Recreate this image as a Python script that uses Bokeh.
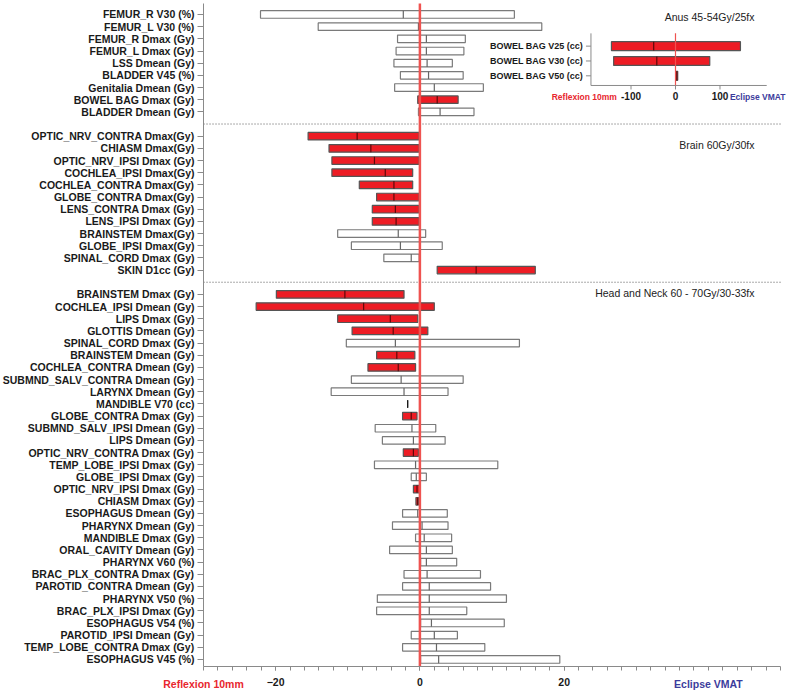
import numpy as np
import pandas as pd
from bokeh.plotting import figure
from bokeh.models import Range1d, FixedTicker, Label, LinearAxis, ColumnDataSource
from bokeh.core.properties import value
from bokeh.embed import file_html
from bokeh.resources import INLINE

# ---------------- data ----------------
anus_labels = ["FEMUR_R V30 (%)", "FEMUR_L V30 (%)", "FEMUR_R Dmax (Gy)", "FEMUR_L Dmax (Gy)",
               "LSS Dmean (Gy)", "BLADDER V45 (%)", "Genitalia Dmean (Gy)",
               "BOWEL BAG Dmax (Gy)", "BLADDER Dmean (Gy)"]
anus_min = [-22.1, -14.1, -3.1, -3.3, -3.6, -2.7, -3.5, -0.3, -0.2]
anus_med = [-2.3, -0.2, 0.9, 0.9, 1.0, 1.2, 2.0, 2.4, 2.8]
anus_max = [13.1, 16.9, 6.3, 6.1, 4.5, 6.0, 8.8, 5.3, 7.5]
anus_sig = [0, 0, 0, 0, 0, 0, 0, 1, 0]

brain_labels = ["OPTIC_NRV_CONTRA Dmax(Gy)", "CHIASM Dmax(Gy)", "OPTIC_NRV_IPSI Dmax (Gy)",
                "COCHLEA_IPSI Dmax(Gy)", "COCHLEA_CONTRA Dmax(Gy)", "GLOBE_CONTRA Dmax(Gy)",
                "LENS_CONTRA Dmax (Gy)", "LENS_IPSI Dmax (Gy)", "BRAINSTEM Dmax(Gy)",
                "GLOBE_IPSI Dmax(Gy)", "SPINAL_CORD Dmax (Gy)", "SKIN D1cc (Gy)"]
brain_min = [-15.5, -12.6, -12.2, -12.2, -8.4, -6.0, -6.6, -6.6, -11.4, -9.5, -5.0, 2.4]
brain_med = [-8.7, -6.8, -6.3, -4.8, -3.6, -3.6, -3.4, -3.3, -3.0, -2.7, -1.2, 7.8]
brain_max = [-0.1, -0.1, -0.1, -1.0, -1.0, -0.1, -0.1, -0.1, 0.8, 3.1, -0.1, 16.0]
brain_sig = [1, 1, 1, 1, 1, 1, 1, 1, 0, 0, 0, 1]

hn_labels = ["BRAINSTEM Dmax (Gy)", "COCHLEA_IPSI Dmean (Gy)", "LIPS Dmax (Gy)", "GLOTTIS Dmean (Gy)",
             "SPINAL_CORD Dmax (Gy)", "BRAINSTEM Dmean (Gy)", "COCHLEA_CONTRA Dmean (Gy)",
             "SUBMND_SALV_CONTRA Dmean (Gy)", "LARYNX Dmean (Gy)", "MANDIBLE V70 (cc)",
             "GLOBE_CONTRA Dmax (Gy)", "SUBMND_SALV_IPSI Dmean (Gy)", "LIPS Dmean (Gy)",
             "OPTIC_NRV_CONTRA Dmax (Gy)", "TEMP_LOBE_IPSI Dmax (Gy)", "GLOBE_IPSI Dmax (Gy)",
             "OPTIC_NRV_IPSI Dmax (Gy)", "CHIASM Dmax (Gy)", "ESOPHAGUS Dmean (Gy)",
             "PHARYNX Dmean (Gy)", "MANDIBLE Dmax (Gy)", "ORAL_CAVITY Dmean (Gy)", "PHARYNX V60 (%)",
             "BRAC_PLX_CONTRA Dmax (Gy)", "PAROTID_CONTRA Dmean (Gy)", "PHARYNX V50 (%)",
             "BRAC_PLX_IPSI Dmax (Gy)", "ESOPHAGUS V54 (%)", "PAROTID_IPSI Dmean (Gy)",
             "TEMP_LOBE_CONTRA Dmax (Gy)", "ESOPHAGUS V45 (%)"]
hn_min = [-19.9, -22.7, -11.4, -9.4, -10.2, -6.0, -7.2, -9.5, -12.3, -1.7, -2.4, -6.2, -5.2,
          -2.3, -6.3, -1.2, -0.9, -0.55, -2.4, -3.8, -0.6, -4.2, 0.1, -2.2, -2.4, -5.9, -6.0,
          0.1, -1.2, -2.4, 0.1]
hn_med = [-10.4, -7.8, -4.1, -3.7, -3.4, -3.2, -3.0, -2.6, -2.2, -1.7, -1.2, -1.1, -0.9,
          -0.9, -0.6, -0.5, -0.4, -0.3, -0.3, 0.3, 0.6, 0.9, 0.9, 1.0, 1.3, 1.3, 1.3,
          1.6, 2.0, 2.3, 2.6]
hn_max = [-2.2, 2.0, -0.3, 1.1, 13.8, -0.7, -0.6, 6.0, 3.9, -1.7, -0.4, 2.2, 3.5,
          -0.2, 10.8, 0.9, -0.05, -0.2, 3.8, 3.9, 4.4, 4.5, 5.1, 8.4, 9.8, 12.0, 6.5,
          11.7, 5.2, 9.0, 19.4]
hn_sig = [1, 1, 1, 1, 0, 1, 1, 0, 0, 0, 1, 0, 0, 1, 0, 0, 1, 1, 0, 0, 0, 0, 0, 0, 0,
          0, 0, 0, 0, 0, 0]

group_titles = ["Anus 45-54Gy/25fx", "Brain 60Gy/30fx", "Head and Neck 60 - 70Gy/30-33fx"]

inset_labels = ["BOWEL BAG V25 (cc)", "BOWEL BAG V30 (cc)", "BOWEL BAG V50 (cc)"]
inset_min = [-144, -139, 1]
inset_med = [-49, -42, 3]
inset_max = [146, 77, 5]
inset_sig = [1, 1, 1]

x_ticks = [-20, 0, 20]
x_end_labels = ["Reflexion 10mm", "Eclipse VMAT"]
x_end_pos = [-30, 40]
inset_x_ticks = [-100, 0, 100]

# ---------------- styling / layout ----------------
RED = "#ed1c24"
RED_EDGE = "#555555"
RED_MED = "#5c0a0a"
GRAY_EDGE = "#7a7a7a"
ZERO = "#ef5350"
AXIS = "#8a8a8a"
FONT = "Liberation Sans"
LEFT_COLOR = "#e8262e"
RIGHT_COLOR = "#3c3c9c"
H = 0.62

# axis extents (data units) and the visible window around them
X_AX0, X_AX1 = -30, 50
X_MIN, X_MAX = -58.15, 50.97
Y_TOP, Y_AXIS = -0.90, 53.57
Y_MIN, Y_MAX = -1.15, 55.55

groups = [(anus_labels, anus_min, anus_med, anus_max, anus_sig),
          (brain_labels, brain_min, brain_med, brain_max, brain_sig),
          (hn_labels, hn_min, hn_med, hn_max, hn_sig)]
rows = []
slot = 0
gap_slots = []
first_slots = []
for gi, (lab, mn, md, mx, sg) in enumerate(groups):
    first_slots.append(slot)
    for i in range(len(lab)):
        rows.append(dict(y=slot, label=lab[i], lo=mn[i], med=md[i], hi=mx[i], sig=sg[i]))
        slot += 1
    if gi < len(groups) - 1:
        gap_slots.append(slot)
        slot += 1
df = pd.DataFrame(rows)
df["fill"] = np.where(df.sig == 1, RED, "white")
df["edge"] = np.where(df.sig == 1, RED_EDGE, GRAY_EDGE)
df["medc"] = np.where(df.sig == 1, RED_MED, "#666666")
df.loc[df.lo == df.hi, ["edge", "medc"]] = "#1a1a1a"
df["y0"] = df.y - H / 2
df["y1"] = df.y + H / 2

p = figure(width=787, height=690, output_backend="svg", toolbar_location=None,
           x_range=Range1d(X_MIN, X_MAX), y_range=Range1d(Y_MAX, Y_MIN),
           x_axis_location=None, y_axis_location=None)
p.min_border = 0
p.outline_line_color = None
p.grid.visible = False

# y axis (fixed at the left end of the x axis)
yax = LinearAxis(fixed_location=X_AX0, bounds=(Y_TOP, Y_AXIS))
yax.ticker = FixedTicker(ticks=list(df.y))
yax.major_label_overrides = {int(r.y): r.label for r in df.itertuples()}
yax.minor_tick_line_color = None
yax.major_tick_out = 6
yax.major_tick_in = 0
yax.major_label_standoff = 3
yax.axis_line_color = AXIS
yax.major_tick_line_color = AXIS
yax.major_label_text_font = FONT
yax.major_label_text_font_style = "bold"
yax.major_label_text_font_size = "10.5px"
yax.major_label_text_color = "#1a1a1a"
p.add_layout(yax, "left")

# x axis (fixed at the bottom of the data area)
xax = LinearAxis(fixed_location=Y_AXIS, bounds=(X_AX0, X_AX1))
xax.ticker = FixedTicker(ticks=x_ticks, minor_ticks=list(range(X_AX0, X_AX1 + 1, 2)))
xax.major_tick_out = 4
xax.major_tick_in = 0
xax.minor_tick_out = 4
xax.minor_tick_in = 0
xax.major_label_standoff = 8
xax.axis_line_color = AXIS
xax.major_tick_line_color = AXIS
xax.minor_tick_line_color = AXIS
xax.major_label_text_font = FONT
xax.major_label_text_font_style = "bold"
xax.major_label_text_font_size = "10.5px"
xax.major_label_text_color = "#1a1a1a"
p.add_layout(xax, "below")

for xv, txt, col in zip(x_end_pos, x_end_labels, [LEFT_COLOR, RIGHT_COLOR]):
    p.add_layout(Label(x=xv, y=Y_AXIS, y_offset=-12, text=txt, text_align="center",
                       text_baseline="top", text_color=col, text_font=FONT,
                       text_font_style="bold", text_font_size="10.5px"))

# bars
src = ColumnDataSource(df)
p.hbar(y="y", left="lo", right="hi", height=H, fill_color="fill", line_color="edge",
       line_width=1.2, source=src)
p.segment(x0="med", x1="med", y0="y0", y1="y1", line_color="medc", line_width=1.2, source=src)

# separators and zero line
p.segment(x0=[X_AX0] * len(gap_slots), x1=[X_AX1] * len(gap_slots), y0=gap_slots, y1=gap_slots,
          line_color="#555555", line_dash="1 2", line_width=1)
p.segment(x0=[0], x1=[0], y0=[Y_TOP], y1=[Y_AXIS], line_color=ZERO, line_width=2.5)

# group titles
title_pos = [0.2, first_slots[1] + 0.7, first_slots[2] - 0.1]
for t, yy in zip(group_titles, title_pos):
    p.add_layout(Label(x=46.4, y=yy, text=t, text_align="right", text_baseline="middle",
                       text_font=FONT, text_font_size="10.5px", text_color="#222222"))

# ---------------- inset (own ranges) ----------------
IX0 = 35.44       # main-x position of inset zero
IXS = 16.21       # inset units per main unit
IY0 = 2.60        # main slot of inset row 0
IYS = 1.22        # main slots per inset row
p.extra_x_ranges = {"ix": Range1d((X_MIN - IX0) * IXS, (X_MAX - IX0) * IXS)}
p.extra_y_ranges = {"iy": Range1d((Y_MAX - IY0) / IYS, (Y_MIN - IY0) / IYS)}
ix_lo, ix_hi = -190, 205
iy_top, iy_bot = -0.86, 2.65

idf = pd.DataFrame(dict(y=list(range(len(inset_labels))), label=inset_labels,
                        lo=inset_min, med=inset_med, hi=inset_max, sig=inset_sig))
idf["y0"] = idf.y - 0.3
idf["y1"] = idf.y + 0.3
isrc = ColumnDataSource(idf)
kw = dict(x_range_name="ix", y_range_name="iy")
p.hbar(y="y", left="lo", right="hi", height=0.6, fill_color=RED, line_color=RED_EDGE,
       line_width=1.2, source=isrc, **kw)
p.segment(x0="med", x1="med", y0="y0", y1="y1", line_color=RED_MED, line_width=1.2,
          source=isrc, **kw)
# inset axes
p.segment(x0=[ix_lo, ix_lo], x1=[ix_lo, ix_hi], y0=[iy_top, iy_bot], y1=[iy_bot, iy_bot],
          line_color=AXIS, line_width=1, **kw)
p.segment(x0=[0], x1=[0], y0=[iy_top], y1=[iy_bot], line_color=ZERO, line_width=1.2, **kw)
p.ray(x=[ix_lo] * len(idf), y=list(idf.y), length=5, length_units="screen", angle=np.pi,
      line_color=AXIS, **kw)
p.ray(x=inset_x_ticks, y=[iy_bot] * len(inset_x_ticks), length=4, length_units="screen",
      angle=-np.pi / 2, line_color=AXIS, **kw)
p.text(x=[ix_lo] * len(idf), y=list(idf.y), text=inset_labels, x_offset=-8,
       text_align="right", text_baseline="middle", text_font=value(FONT),
       text_font_style="bold", text_font_size="9px", text_color="#1a1a1a", **kw)
p.text(x=inset_x_ticks, y=[iy_bot] * len(inset_x_ticks), text=[str(v) for v in inset_x_ticks],
       y_offset=7, text_align="center", text_baseline="top", text_font=value(FONT),
       text_font_style="bold", text_font_size="10px", text_color="#1a1a1a", **kw)
p.text(x=[-205], y=[iy_bot], text=[x_end_labels[0]], y_offset=7,
       text_align="center", text_baseline="top", text_font=value(FONT),
       text_font_style="bold", text_font_size="8.5px", text_color=LEFT_COLOR, **kw)
p.text(x=[(X_MAX - IX0) * IXS], y=[iy_bot], text=[x_end_labels[1]], y_offset=7, x_offset=-2,
       text_align="right", text_baseline="top", text_font=value(FONT),
       text_font_style="bold", text_font_size="8.5px", text_color=RIGHT_COLOR, **kw)

open("out.html", "w").write(file_html(p, INLINE))
